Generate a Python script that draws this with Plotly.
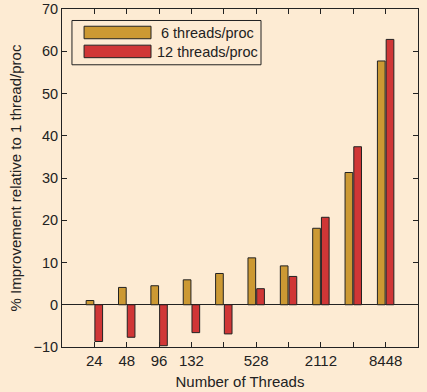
import plotly.graph_objects as go

groups = [1, 2, 3, 4, 5, 6, 7, 8, 9, 10]
tick_labels = ["24", "48", "96", "132", "", "528", "", "2112", "", "8448"]
series_names = ["6 threads/proc", "12 threads/proc"]
six_threads = [1.0, 4.1, 4.5, 5.9, 7.4, 11.1, 9.2, 18.1, 31.3, 57.7]
twelve_threads = [-8.7, -7.7, -9.7, -6.6, -6.9, 3.8, 6.7, 20.7, 37.4, 62.8]

GOLD = "#CC9933"
RED = "#D03636"
BG = "#FDEBD3"
FONT = "Liberation Sans, Arial, sans-serif"

fig = go.Figure()
fig.add_trace(go.Bar(x=groups, y=six_threads, name=series_names[0],
                     marker=dict(color=GOLD, line=dict(color="#222", width=1)), showlegend=False))
fig.add_trace(go.Bar(x=groups, y=twelve_threads, name=series_names[1],
                     marker=dict(color=RED, line=dict(color="#222", width=1)), showlegend=False))

# custom legend (plot-area fractions)
shapes = [
    dict(type="rect", xref="paper", yref="paper", x0=0.028, x1=0.559, y0=0.835, y1=0.966,
         line=dict(color="#222", width=1), fillcolor=BG),
    dict(type="rect", xref="paper", yref="paper", x0=0.062, x1=0.25, y0=0.912, y1=0.949,
         line=dict(color="#222", width=1), fillcolor=GOLD),
    dict(type="rect", xref="paper", yref="paper", x0=0.062, x1=0.25, y0=0.856, y1=0.893,
         line=dict(color="#222", width=1), fillcolor=RED),
]
annotations = [
    dict(xref="paper", yref="paper", x=0.41, y=0.93, text=series_names[0], showarrow=False,
         xanchor="center", yanchor="middle", font=dict(size=14.5, color="#222", family=FONT)),
    dict(xref="paper", yref="paper", x=0.41, y=0.874, text=series_names[1], showarrow=False,
         xanchor="center", yanchor="middle", font=dict(size=14.5, color="#222", family=FONT)),
]

fig.update_layout(
    width=427, height=392,
    margin=dict(l=62, r=9, t=9, b=45),
    paper_bgcolor=BG, plot_bgcolor=BG,
    font=dict(family=FONT, size=15, color="#222"),
    barmode="group", bargap=0.46, bargroupgap=0.12,
    shapes=shapes, annotations=annotations,
    xaxis=dict(range=[0, 11], tickmode="array", tickvals=groups, ticktext=tick_labels,
               ticks="inside", ticklen=5, tickcolor="#222", showline=True, linecolor="#222",
               linewidth=1, mirror="ticks", showgrid=False, zeroline=False, automargin=False,
               title=dict(text="Number of Threads", standoff=8, font=dict(size=15))),
    yaxis=dict(range=[-10, 70], tickmode="array", tickvals=list(range(-10, 71, 10)),
               ticks="inside", ticklen=5, tickcolor="#222", showline=True, linecolor="#222",
               linewidth=1, mirror="ticks", showgrid=False, zeroline=True, zerolinecolor="#222",
               zerolinewidth=1, automargin=False, ticklabeloverflow="allow",
               tickfont=dict(size=14.5),
               title=dict(text="% Improvement relative to 1 thread/proc", standoff=8, font=dict(size=15))),
)

fig.write_html("out.html", config={"displayModeBar": False},
               post_script="document.body.style.margin='0';document.body.style.overflow='hidden';")
